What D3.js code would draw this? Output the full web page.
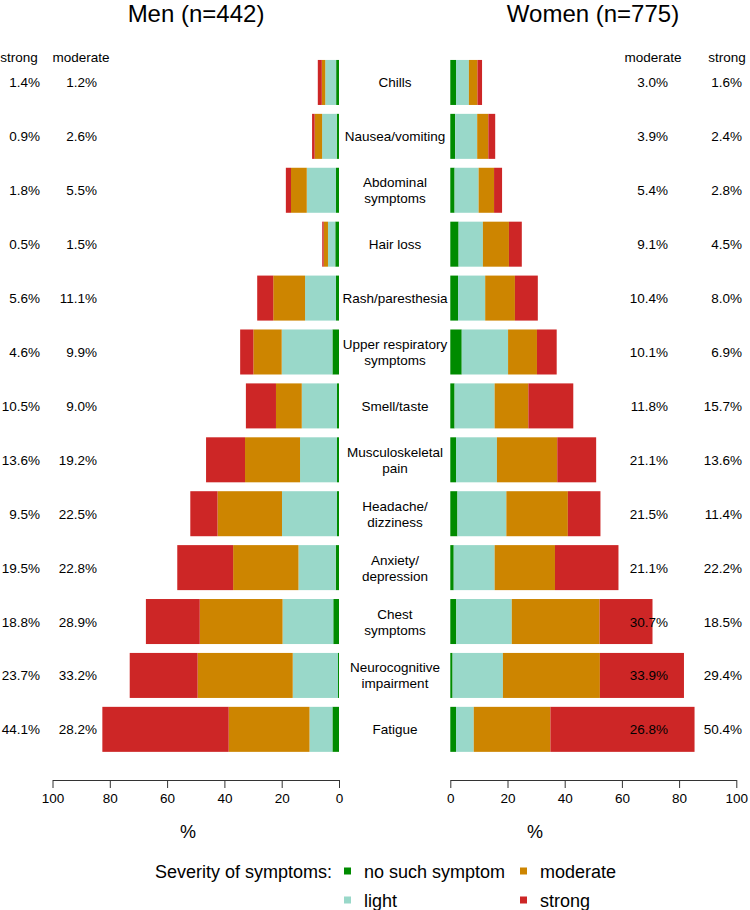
<!DOCTYPE html>
<html><head><meta charset="utf-8">
<script src="https://cdn.jsdelivr.net/npm/d3@7"></script>
<style>
body{margin:0;background:#fff;}
svg{font-family:"Liberation Sans",Arial,sans-serif;}
</style></head>
<body><svg id="c" width="750" height="910"></svg>
<script>
const categories = ["Chills","Nausea/vomiting","Abdominal|symptoms","Hair loss","Rash/paresthesia","Upper respiratory|symptoms","Smell/taste","Musculoskeletal|pain","Headache/|dizziness","Anxiety/|depression","Chest|symptoms","Neurocognitive|impairment","Fatigue"];
const menNone     = [1.0,0.8,1.05,1.3,1.05,2.3,0.7,0.7,0.7,1.15,2.0,0.35,2.3];
const menLight    = [3.8,5.1,10.2,2.55,10.8,17.7,12.3,12.9,19.2,13.0,17.7,15.8,8.0];
const menModerate = [1.2,2.6,5.5,1.5,11.1,9.9,9.0,19.2,22.5,22.8,28.9,33.2,28.2];
const menStrong   = [1.4,0.9,1.8,0.5,5.6,4.6,10.5,13.6,9.5,19.5,18.8,23.7,44.1];
const womenNone     = [2.0,1.7,1.5,2.9,2.7,4.0,1.5,2.0,2.5,1.2,2.1,0.8,2.0];
const womenLight    = [4.5,7.7,8.4,8.5,9.5,16.2,14.0,14.3,17.1,14.3,19.4,17.6,6.2];
const womenModerate = [3.0,3.9,5.4,9.1,10.4,10.1,11.8,21.1,21.5,21.1,30.7,33.9,26.8];
const womenStrong   = [1.6,2.4,2.8,4.5,8.0,6.9,15.7,13.6,11.4,22.2,18.5,29.4,50.4];
const severities = ["no such symptom","light","moderate","strong"];
const colors = ["#008B00","#99D8C9","#CD8500","#CD2626"];
const tickValues = [0,20,40,60,80,100];

const svg = d3.select("#c");
const y = d3.scaleBand().domain(categories).range([55.5,756.3]).paddingInner(0.165).paddingOuter(0.0825);
const xMen = d3.scaleLinear().domain([0,100]).range([339,52.5]);
const xWomen = d3.scaleLinear().domain([0,100]).range([450.3,736.3]);
const FS = 13.5;

function drawSide(x, series) {
  const g = svg.append("g");
  categories.forEach((c,i) => {
    let cum = 0;
    series.forEach((s,k) => {
      const v = s[i];
      const a = x(cum), b = x(cum+v);
      g.append("rect").attr("x", Math.min(a,b)).attr("width", Math.abs(b-a))
        .attr("y", y(c)).attr("height", y.bandwidth()).attr("fill", colors[k]);
      cum += v;
    });
  });
}
drawSide(xMen, [menNone,menLight,menModerate,menStrong]);
drawSide(xWomen, [womenNone,womenLight,womenModerate,womenStrong]);

// category labels
categories.forEach(c => {
  const lines = c.split("|");
  const cy = y(c) + y.bandwidth()/2;
  lines.forEach((l,j) => {
    svg.append("text").attr("x",395).attr("y", cy + (j - (lines.length-1)/2)*16 + 5)
      .attr("text-anchor","middle").attr("font-size",FS).attr("fill","#000").text(l);
  });
});

// value columns
const fmt = v => v.toFixed(1) + "%";
categories.forEach((c,i) => {
  const cy = y(c) + y.bandwidth()/2 + 5;
  svg.append("text").attr("x",40).attr("y",cy).attr("text-anchor","end").attr("font-size",FS).text(fmt(menStrong[i]));
  svg.append("text").attr("x",97).attr("y",cy).attr("text-anchor","end").attr("font-size",FS).text(fmt(menModerate[i]));
  svg.append("text").attr("x",668).attr("y",cy).attr("text-anchor","end").attr("font-size",FS).text(fmt(womenModerate[i]));
  svg.append("text").attr("x",742).attr("y",cy).attr("text-anchor","end").attr("font-size",FS).text(fmt(womenStrong[i]));
});
svg.append("text").attr("x",19).attr("y",62).attr("text-anchor","middle").attr("font-size",FS).text("strong");
svg.append("text").attr("x",81).attr("y",62).attr("text-anchor","middle").attr("font-size",FS).text("moderate");
svg.append("text").attr("x",653).attr("y",62).attr("text-anchor","middle").attr("font-size",FS).text("moderate");
svg.append("text").attr("x",727).attr("y",62).attr("text-anchor","middle").attr("font-size",FS).text("strong");

// titles
svg.append("text").attr("x",196).attr("y",22).attr("text-anchor","middle").attr("font-size",24).text("Men (n=442)");
svg.append("text").attr("x",593).attr("y",22).attr("text-anchor","middle").attr("font-size",24).text("Women (n=775)");

// axes
function drawAxis(x) {
  const ax = svg.append("g").attr("transform","translate(0,780)")
    .call(d3.axisBottom(x).tickValues(tickValues).tickSize(8).tickSizeOuter(0).tickPadding(5).tickFormat(d3.format("d")));
  ax.selectAll("text").attr("font-size",FS).attr("font-family","Liberation Sans, Arial, sans-serif").attr("fill","#000");
  ax.selectAll("line,path").attr("stroke","#333");
}
drawAxis(xMen);
drawAxis(xWomen);
svg.append("text").attr("x",188).attr("y",838).attr("text-anchor","middle").attr("font-size",18).text("%");
svg.append("text").attr("x",535).attr("y",838).attr("text-anchor","middle").attr("font-size",18).text("%");

// legend
svg.append("text").attr("x",155).attr("y",878).attr("font-size",18).text("Severity of symptoms:");
const legPos = [[344,871],[344,900],[520,871],[520,900]];
severities.forEach((s,k) => {
  const [lx,ly] = legPos[k];
  svg.append("rect").attr("x",lx).attr("y",ly-3.5).attr("width",7).attr("height",7).attr("fill",colors[k]);
  svg.append("text").attr("x",lx+20).attr("y",ly+7).attr("font-size",18).text(s);
});
</script></body></html>
